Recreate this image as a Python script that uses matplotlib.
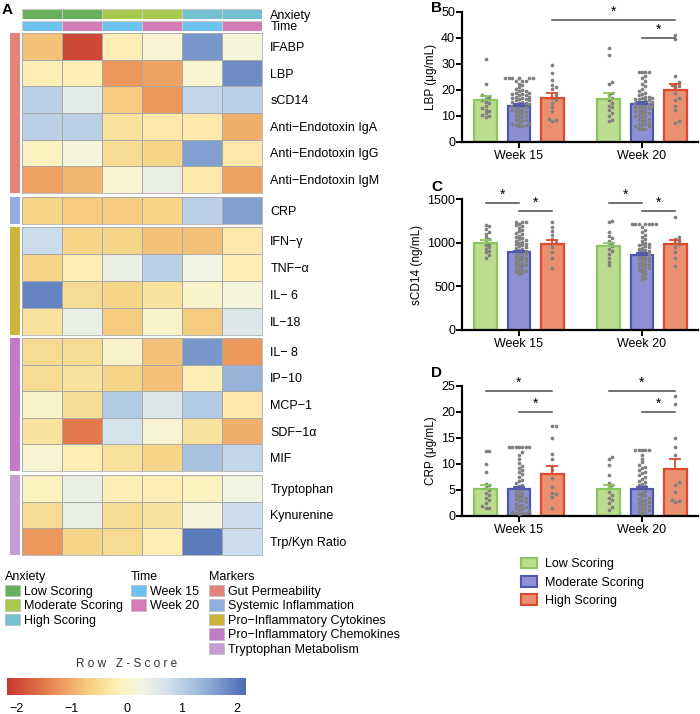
import numpy as np
import matplotlib.pyplot as plt
from matplotlib.colors import LinearSegmentedColormap, ListedColormap, Normalize
from matplotlib.cm import ScalarMappable
from matplotlib.patches import Patch

plt.rcParams['font.family'] = ['Liberation Sans', 'DejaVu Sans']

W, H = 700, 714

# ---------------- heatmap data (row z-scores) ----------------
# columns: Low W15, Low W20, Moderate W15, Moderate W20, High W15, High W20
anxiety_cols = [0, 0, 1, 1, 2, 2]
time_cols = [0, 1, 0, 1, 0, 1]

anxiety_names = ["Low Scoring", "Moderate Scoring", "High Scoring"]
time_names = ["Week 15", "Week 20"]
marker_names = ["Gut Permeability", "Systemic Inflammation", "Pro\u2212Inflammatory Cytokines",
                "Pro\u2212Inflammatory Chemokines", "Tryptophan Metabolism"]

gut_rows = ["IFABP", "LBP", "sCD14", "Anti\u2212Endotoxin IgA", "Anti\u2212Endotoxin IgG",
            "Anti\u2212Endotoxin IgM"]
gut_z = [[-0.8, -2.0, -0.2, 0.1, 1.7, 0.2],
         [-0.2, -0.2, -1.2, -1.1, 0.1, 1.8],
         [1.0, 0.5, -0.7, -1.2, 0.9, 1.0],
         [1.0, 1.0, -0.4, -0.3, -0.3, -1.0],
         [-0.1, 0.2, -0.5, -0.6, 1.6, -0.3],
         [-1.1, -0.9, 0.1, 0.4, -0.3, -1.1]]

sys_rows = ["CRP"]
sys_z = [[-0.6, -0.7, -0.7, -0.6, 1.0, 1.6]]

cyt_rows = ["IFN\u2212\u03b3", "TNF\u2212\u03b1", "IL\u2212 6", "IL\u221218"]
cyt_z = [[0.8, -0.6, -0.6, -0.8, -0.8, -0.3],
         [-0.6, -0.2, 0.4, 1.0, 0.3, -0.2],
         [1.9, -0.5, -0.6, -0.4, 0.0, 0.2],
         [-0.4, 0.4, -0.7, 0.0, -0.7, 0.6]]

chem_rows = ["IL\u2212 8", "IP\u221210", "MCP\u22121", "SDF\u22121\u03b1", "MIF"]
chem_z = [[-0.5, -0.5, 0.0, -0.8, 1.7, -1.2],
          [-0.5, -0.4, -0.6, -0.8, -0.2, 1.4],
          [0.0, -0.5, 1.1, 0.6, 1.1, -0.3],
          [-0.4, -1.5, 0.7, 0.1, -0.4, -1.0],
          [0.1, -0.2, -0.4, -0.6, 1.2, 0.9]]

trp_rows = ["Tryptophan", "Kynurenine", "Trp/Kyn Ratio"]
trp_z = [[-0.1, 0.4, -0.2, -0.2, -0.1, 0.3],
         [-0.5, 0.4, -0.5, -0.4, 0.2, 0.8],
         [-1.2, -0.6, -0.5, -0.2, 2.0, 0.8]]

# ---------------- bar panel data ----------------
weeks = ["Week 15", "Week 20"]
groups = ["Low Scoring", "Moderate Scoring", "High Scoring"]

lbp_mean = [[16, 14, 17], [16.5, 14.5, 20]]
lbp_sem = [[1.6, 0.7, 2.0], [2.3, 0.7, 2.5]]
lbp_pts = [
    [[32, 22.5, 18, 17.5, 17, 16, 15.5, 15, 14, 13, 12.5, 12, 11, 10.5, 10, 9.5],
     [24.5, 24.5, 24.5, 24.5, 24.5, 24.5, 24.5, 23.5, 23.5, 23.5, 22.5, 22, 21, 20.5, 20,
      19.5, 19.5, 19, 19, 18.5, 18.5, 18, 18, 17.5, 17.5, 17, 17, 16.5, 16.5, 16, 16, 15.5,
      15.5, 15, 15, 14.5, 14.5, 14, 14, 13.5, 13.5, 13, 12.5, 12.5, 12, 11.5, 11.5, 11, 10.5,
      10, 10, 9.5, 9, 8.5, 8.5, 8, 7.5, 7, 7, 6.5, 6.5, 6, 6],
     [29.5, 26.5, 24, 22, 21, 20.5, 18, 17, 16, 15, 13.5, 12, 9, 8.5, 8]],
    [[36, 33.5, 23, 22.5, 19, 18, 17, 16, 15, 14, 13.5, 12.5, 11, 10, 8.5, 8],
     [27, 27, 27, 27, 25.5, 24.5, 23.5, 22.5, 21.5, 20.5, 19.5, 19, 18.5, 18, 17.5, 17.5,
      17, 17, 16.5, 16.5, 16, 16, 15.5, 15.5, 15, 15, 14.5, 14.5, 14, 14, 13.5, 13.5, 13, 13,
      12.5, 12, 12, 11.5, 11, 11, 10.5, 10, 10, 9.5, 9, 9, 8.5, 8, 7.5, 7, 7, 6.5, 6, 6, 5.5,
      5, 5],
     [41, 39.5, 25.5, 23, 22.5, 22, 21.5, 21, 19, 17, 16, 14, 12.5, 8, 7.5]]]

scd14_mean = [[1000, 890, 990], [960, 860, 990]]
scd14_sem = [[30, 18, 45], [40, 18, 40]]
scd14_pts = [
    [[1200, 1190, 1160, 1120, 1100, 1060, 1040, 1010, 990, 970, 950, 930, 910, 890, 860, 830],
     [1240, 1240, 1240, 1210, 1200, 1190, 1170, 1150, 1130, 1110, 1100, 1080, 1060, 1050,
      1040, 1030, 1020, 1010, 1000, 990, 980, 970, 960, 950, 940, 930, 920, 910, 900, 890,
      880, 870, 860, 850, 840, 830, 820, 810, 800, 790, 780, 770, 760, 750, 740, 730, 720,
      700, 690, 680, 670, 660, 650, 640],
     [1240, 1180, 1130, 1090, 1040, 1010, 990, 950, 890, 830, 710]],
    [[1250, 1240, 1120, 1080, 1050, 1020, 1000, 980, 960, 930, 900, 870, 830, 780, 740],
     [1210, 1210, 1210, 1210, 1210, 1210, 1210, 1180, 1150, 1120, 1090, 1060, 1040, 1020,
      1000, 990, 980, 970, 960, 950, 940, 930, 920, 910, 900, 890, 880, 870, 860, 850, 840,
      830, 820, 810, 800, 790, 780, 770, 760, 750, 740, 730, 720, 710, 700, 690, 680, 660,
      640, 620, 600, 580],
     [1290, 1070, 1040, 1020, 1000, 980, 950, 890, 820, 730]]]

crp_mean = [[5.2, 5.2, 8.1], [5.1, 5.1, 9.0]]
crp_sem = [[0.8, 0.4, 1.5], [0.8, 0.4, 2.0]]
crp_pts = [
    [[12.5, 12.5, 10, 8.5, 6.2, 6, 5.5, 5, 4.5, 4, 3.5, 3, 2.5, 2, 1.5, 1.5],
     [13.3, 13.3, 13.3, 13.3, 13.3, 13.3, 13.3, 12.3, 11.8, 11, 10.2, 9.7, 9.3, 8.8, 8.5, 8,
      7.5, 7, 6.7, 6.3, 6, 5.8, 5.5, 5.2, 5, 4.8, 4.5, 4.3, 4, 3.8, 3.6, 3.4, 3.2, 3, 2.8,
      2.6, 2.4, 2.2, 2, 1.8, 1.6, 1.4, 1.2, 1, 0.8, 0.6, 0.5, 0.5, 0.4],
     [17.3, 17.3, 15, 12, 11, 9.7, 8.8, 7.3, 5.6, 4.5, 4.2, 3.7, 1.5]],
    [[11.3, 11, 9.8, 7.9, 6.3, 6, 5.5, 4.6, 4, 3.5, 3.1, 2.5, 1.8, 1.2],
     [12.6, 12.6, 12.6, 12.6, 12.6, 11.8, 11, 10.3, 9.8, 9.5, 9.2, 8.8, 8.5, 8.2, 7.8, 7.5,
      7.2, 6.8, 6.5, 6.2, 6, 5.7, 5.4, 5.1, 4.8, 4.5, 4.3, 4, 3.8, 3.5, 3.3, 3.1, 2.9, 2.7,
      2.5, 2.3, 2.1, 1.9, 1.7, 1.5, 1.3, 1.1, 0.9, 0.7, 0.5],
     [23, 21.5, 15, 13.3, 11.7, 6.5, 6, 4.6, 3.1, 2.8, 2.6]]]

# significance brackets: ((week, group) from, (week, group) to, height)
lbp_sig = [((0, 2), (1, 2), 46.9), ((1, 1), (1, 2), 40)]
scd14_sig = [((0, 0), (0, 1), 1455), ((0, 1), (0, 2), 1363),
             ((1, 0), (1, 1), 1455), ((1, 1), (1, 2), 1363)]
crp_sig = [((0, 0), (0, 2), 24), ((0, 1), (0, 2), 20),
           ((1, 0), (1, 2), 24), ((1, 1), (1, 2), 20)]

# ---------------- styles ----------------
anx_colors = ["#68b05c", "#a9c94a", "#74c1cf"]
time_colors = ["#6cc3ee", "#d47cb6"]
marker_colors = ["#e0847c", "#92aee0", "#cdb53c", "#c27bc6", "#c79cd4"]
bar_fill = ["#bcdc8e", "#8d91d3", "#ea9070"]
bar_edge = ["#8cc662", "#5256ae", "#da4a2e"]

zmin, zmax = -2.17, 2.17
zcmap = LinearSegmentedColormap.from_list("rowz", [
    (0.0, "#c8372d"), (0.20, "#ea8c55"), (0.35, "#f6d283"), (0.47, "#fdf2bc"),
    (0.56, "#f4f5e2"), (0.67, "#d2e1ed"), (0.82, "#98b5da"), (1.0, "#4b6bb3")])

fig = plt.figure(figsize=(W / 100, H / 100), dpi=100)


def px_axes(x0, y0, x1, y1):
    return fig.add_axes([x0 / W, 1 - y1 / H, (x1 - x0) / W, (y1 - y0) / H])


# ---------------- panel A: heatmap ----------------
fig.text(2 / W, 1 - 10 / H, "A", fontsize=11, fontweight="bold", va="center")

for cols, cmap_cols, name, (y0, y1) in [(anxiety_cols, anx_colors, "Anxiety", (9, 19)),
                                         (time_cols, time_colors, "Time", (21, 31))]:
    ax = px_axes(22, y0, 262, y1)
    ax.pcolormesh(np.array([cols]), cmap=ListedColormap(cmap_cols),
                  vmin=-0.5, vmax=len(cmap_cols) - 0.5, edgecolors="#c8c8c8", linewidth=0.5)
    ax.set_xticks([])
    ax.yaxis.tick_right()
    ax.set_yticks([0.5])
    ax.set_yticklabels([name], fontsize=9)
    ax.tick_params(length=0, pad=6)
    for s in ax.spines.values():
        s.set_visible(False)

blocks = [(gut_rows, gut_z, (33, 193)), (sys_rows, sys_z, (197, 224)),
          (cyt_rows, cyt_z, (227, 335)), (chem_rows, chem_z, (338, 471)),
          (trp_rows, trp_z, (475, 555))]

for i, (rows, z, (y0, y1)) in enumerate(blocks):
    ax = px_axes(22, y0, 262, y1)
    ax.pcolormesh(np.array(z), cmap=zcmap, vmin=zmin, vmax=zmax,
                  edgecolors="#a8a8a8", linewidth=0.6)
    ax.invert_yaxis()
    ax.set_xticks([])
    ax.yaxis.tick_right()
    ax.set_yticks(np.arange(len(rows)) + 0.5)
    ax.set_yticklabels(rows, fontsize=9)
    ax.tick_params(length=0, pad=6)
    for s in ax.spines.values():
        s.set_color("#b0b0b0")
        s.set_linewidth(0.6)
    side = px_axes(10, y0, 20, y1)
    side.pcolormesh(np.full((len(rows), 1), i), cmap=ListedColormap(marker_colors),
                    vmin=-0.5, vmax=4.5)
    side.set_axis_off()

# legends
def block_legend(title, names, colors, x, y):
    handles = [Patch(facecolor=c, edgecolor="#b8b8b8", linewidth=0.5) for c in colors]
    leg = fig.legend(handles, names, title=title, loc="upper left",
                     bbox_to_anchor=(x / W, 1 - y / H), frameon=False, fontsize=9,
                     title_fontsize=9, handlelength=1.2, handleheight=1.05,
                     handletextpad=0.35, labelspacing=0.12, borderpad=0,
                     borderaxespad=0, alignment="left")
    return leg

block_legend("Anxiety", anxiety_names, anx_colors, 5, 571)
block_legend("Time", time_names, time_colors, 131, 571)
block_legend("Markers", marker_names, marker_colors, 209, 571)

# colour key
cax = px_axes(7, 678, 246, 695)
cb = fig.colorbar(ScalarMappable(norm=Normalize(zmin, zmax), cmap=zcmap), cax=cax,
                  orientation="horizontal", ticks=[-2, -1, 0, 1, 2])
cb.outline.set_visible(False)
cb.ax.tick_params(length=0, labelsize=9, pad=6)
cb.ax.set_xticklabels(["\u22122", "\u22121", "0", "1", "2"])
fig.text(127 / W, 1 - 664 / H, "R o w   Z - S c o r e", fontsize=8.5, ha="center",
         va="center", color="#333333")


# ---------------- panels B-D ----------------
offsets = [-0.272, 0.0, 0.272]
bar_w = 0.18


def swarm_offsets(ax, xc, vals, dot_px=3.4, max_steps=4):
    # simple beeswarm layout in pixel space
    ys = ax.transData.transform(np.column_stack([np.full(len(vals), xc), vals]))[:, 1]
    x_px = ax.transData.transform([(xc, 0), (xc + 1, 0)])
    unit = x_px[1, 0] - x_px[0, 0]
    order = np.argsort(ys)
    placed = []
    out = np.zeros(len(vals))
    for k in order:
        y = ys[k]
        best = None
        for step in range(0, 2 * max_steps + 1):
            s = (step + 1) // 2 * (1 if step % 2 else -1)
            xo = s * dot_px
            if all((xo - px) ** 2 + (y - py) ** 2 >= (dot_px * 0.95) ** 2 for px, py in placed):
                best = xo
                break
        if best is None:
            best = 0.0
        placed.append((best, y))
        out[k] = best / unit
    return out


def bar_panel(box, letter, letter_y, ylabel, ylim, yticks, means, sems, pts, sigs):
    ax = px_axes(*box)
    ax.set_xlim(-0.463, 1.455)
    ax.set_ylim(*ylim)
    for w in range(2):
        for g in range(3):
            xc = w + offsets[g]
            ax.bar(xc, means[w][g], bar_w, color=bar_fill[g], edgecolor=bar_edge[g],
                   linewidth=1.6, zorder=1)
    for w in range(2):
        for g in range(3):
            xc = w + offsets[g]
            dx = swarm_offsets(ax, xc, pts[w][g])
            ax.scatter(xc + dx, pts[w][g], s=7, color="#808080", linewidths=0, zorder=3,
                       clip_on=False)
            ax.errorbar(xc, means[w][g], yerr=[[0], [sems[w][g]]], fmt="none",
                        ecolor=bar_edge[g], elinewidth=1.3, capsize=4, capthick=1.3, zorder=4)
    for (w1, g1), (w2, g2), yy in sigs:
        x1, x2 = w1 + offsets[g1], w2 + offsets[g2]
        ax.plot([x1, x2], [yy, yy], color="#4a4a4a", lw=1.1, zorder=5, clip_on=False)
        ax.text((x1 + x2) / 2, yy + (ylim[1] - ylim[0]) * 0.012, "*", ha="center",
                va="bottom", fontsize=10, zorder=5)
    ax.set_yticks(yticks)
    ax.set_xticks([0, 1])
    ax.set_xticklabels(weeks, fontsize=9)
    ax.tick_params(axis="y", labelsize=9, length=4, width=1.4, pad=1)
    ax.tick_params(axis="x", length=4, width=1.4, pad=2)
    ax.set_ylabel(ylabel, fontsize=8.5, labelpad=3)
    for s in ["top", "right"]:
        ax.spines[s].set_visible(False)
    for s in ["left", "bottom"]:
        ax.spines[s].set_linewidth(1.6)
    fig.text(431 / W, 1 - letter_y / H, letter, fontsize=11, fontweight="bold",
             va="center")
    return ax


bar_panel((462, 12, 698, 142), "B", 8, "LBP (\u03bcg/mL)", (0, 50), range(0, 51, 10),
          lbp_mean, lbp_sem, lbp_pts, lbp_sig)
bar_panel((462, 199, 698, 330), "C", 187, "sCD14 (ng/mL)", (0, 1500), [0, 500, 1000, 1500],
          scd14_mean, scd14_sem, scd14_pts, scd14_sig)
bar_panel((462, 386, 698, 516), "D", 373, "CRP (\u03bcg/mL)", (0, 25), range(0, 26, 5),
          crp_mean, crp_sem, crp_pts, crp_sig)

handles = [Patch(facecolor=f, edgecolor=e, linewidth=1.5) for f, e in zip(bar_fill, bar_edge)]
fig.legend(handles, groups, loc="upper left", bbox_to_anchor=(521 / W, 1 - 558 / H),
           frameon=False, fontsize=9, handlelength=1.3, handleheight=0.9,
           handletextpad=0.6, labelspacing=0.45, borderpad=0, borderaxespad=0)

fig.savefig("out.png", dpi=100)
